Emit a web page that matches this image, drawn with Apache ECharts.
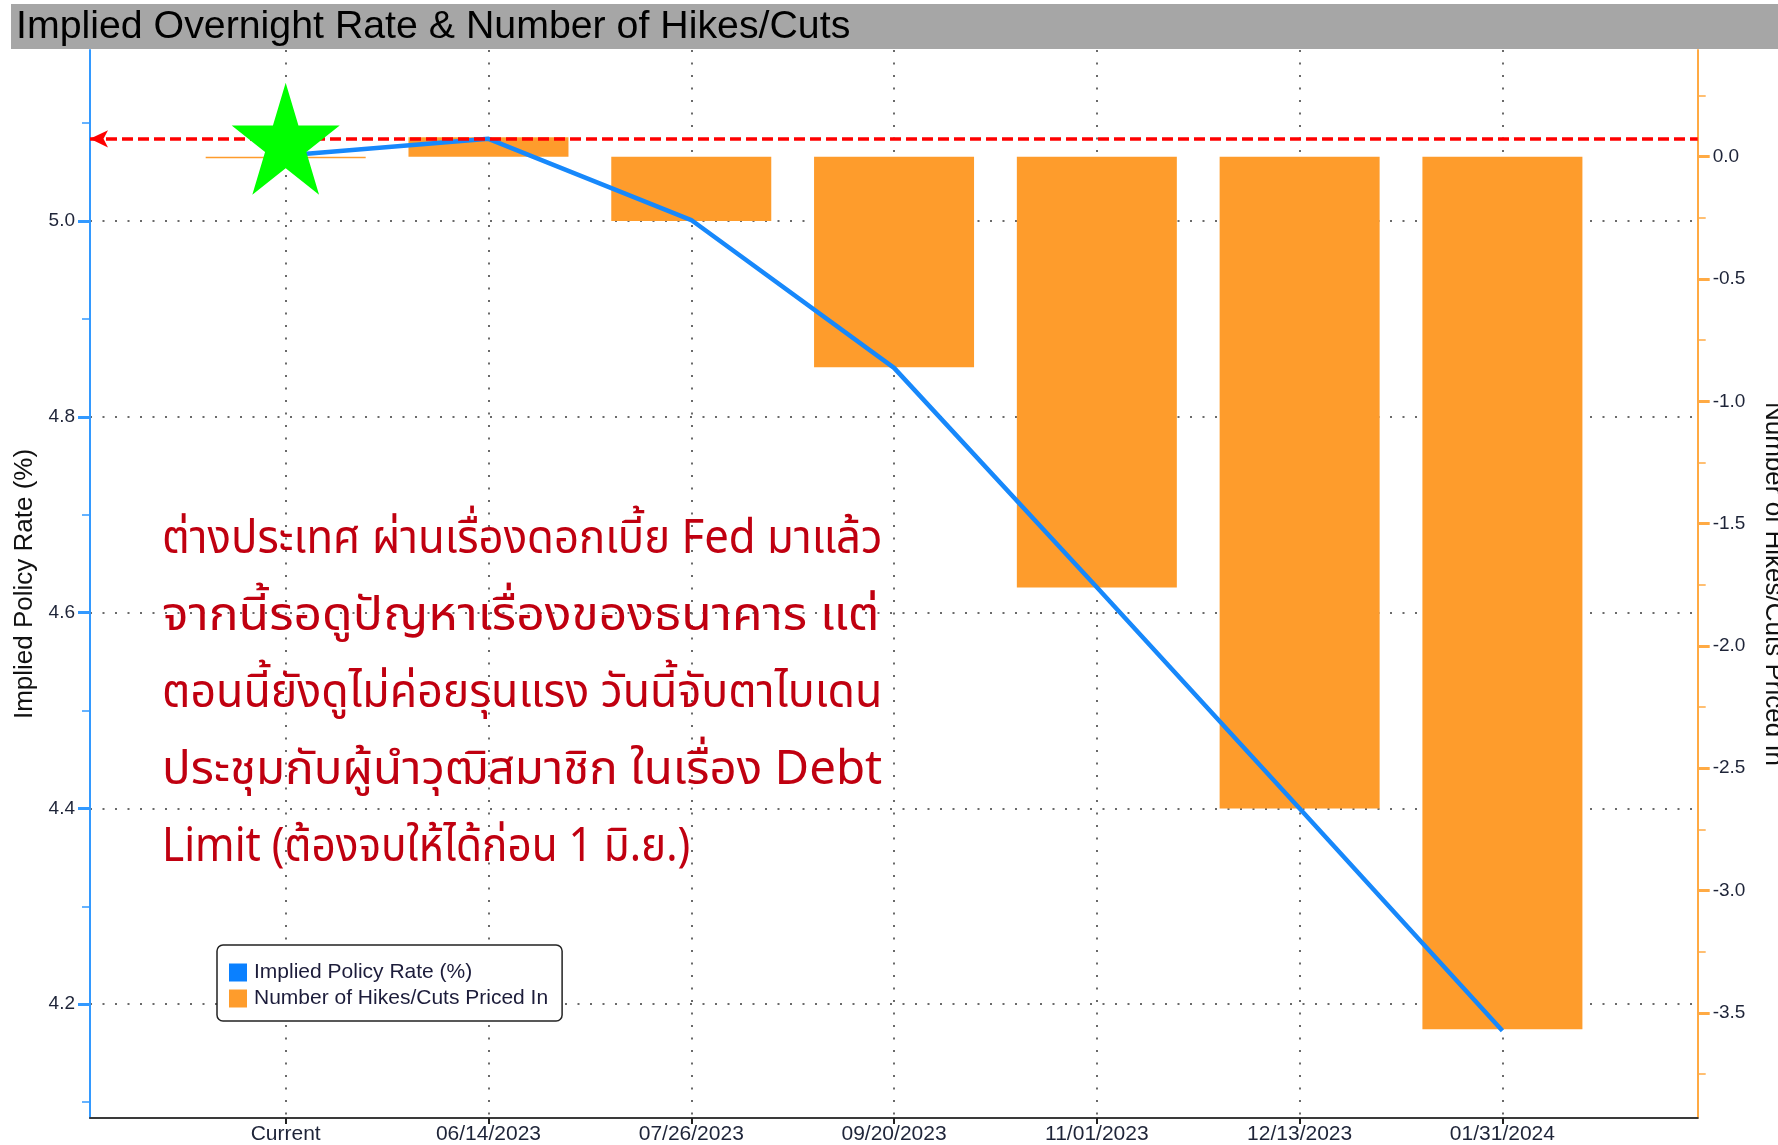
<!DOCTYPE html>
<html><head><meta charset="utf-8">
<script src="https://cdn.jsdelivr.net/npm/echarts@6/dist/echarts.min.js"></script>
<style>html,body{margin:0;padding:0;background:#fff}#c{width:1778px;height:1145px}</style>
</head><body><div id="c"></div>
<script>
// ---- data ----
const categories = ['Current', '06/14/2023', '07/26/2023', '09/20/2023', '11/01/2023', '12/13/2023', '01/31/2024'];
const impliedRate = [5.067, 5.084, 5.001, 4.850, 4.626, 4.400, 4.173];
const hikesCuts = [-0.006, 0.079, -0.263, -0.861, -1.761, -2.665, -3.567];
const leftTickLabels = [4.2, 4.4, 4.6, 4.8, 5.0];
const leftMinorTicks = [4.1, 4.3, 4.5, 4.7, 4.9, 5.1];
const rightTickLabels = [0, -0.5, -1.0, -1.5, -2.0, -2.5, -3.0, -3.5];
const rightMinorTicks = [0.25, -0.25, -0.75, -1.25, -1.75, -2.25, -2.75, -3.25, -3.75];
const titleText = 'Implied Overnight Rate & Number of Hikes/Cuts';
const noteLines = [
  'ต่างประเทศ ผ่านเรื่องดอกเบี้ย Fed มาแล้ว',
  'จากนี้รอดูปัญหาเรื่องของธนาคาร แต่',
  'ตอนนี้ยังดูไม่ค่อยรุนแรง วันนี้จับตาไบเดน',
  'ประชุมกับผู้นำวุฒิสมาชิก ในเรื่อง Debt',
  'Limit (ต้องจบให้ได้ก่อน 1 มิ.ย.)'
];

const xPos = categories.map((c, i) => i + 1);
const lineData = xPos.map((x, i) => [x, impliedRate[i]]);
const barData = xPos.map((x, i) => [x, hikesCuts[i]]);

const FONT = '"Liberation Sans", Arial, sans-serif';
const LABEL_COLOR = '#1e2438';
const STAR = 'path://M0,-50 L11.23,-15.45 L47.55,-15.45 L18.17,5.9 L29.39,40.45 L0,19.1 L-29.39,40.45 L-18.17,5.9 L-47.55,-15.45 L-11.23,-15.45 Z';
const gridDots = { color: '#6a6a6a', width: 2, type: [2, 10.5] };
const LEFT = { min: 4.0838, max: 5.1747 };
const RIGHT = { min: -3.930, max: 0.4362 };
const noteScale = [0.93, 1.06, 0.95, 1.01, 0.90];

const chart = echarts.init(document.getElementById('c'), null, { renderer: 'canvas' });

const noteGraphics = noteLines.map((t, i) => ({
  type: 'text', z: 100,
  x: 162, y: 543 + i * 77, scaleX: noteScale[i],
  style: { text: t, fill: '#c00010', font: '47px "Noto Sans Thai", "Noto Sans Thai Looped", "Noto Sans", sans-serif', verticalAlign: 'middle', align: 'left' }
}));

chart.setOption({
  animation: false,
  backgroundColor: '#ffffff',
  grid: { left: 90, right: 80.3, top: 50, bottom: 27, containLabel: false, outerBoundsMode: 'none' },
  legend: {
    orient: 'vertical', left: 217, top: 945,
    padding: [17, 14, 12, 12], itemGap: 5, itemWidth: 18, itemHeight: 18,
    borderColor: '#222', borderWidth: 1.5, borderRadius: 6, backgroundColor: '#fff',
    icon: 'rect',
    textStyle: { fontFamily: FONT, fontSize: 21, color: '#1c1c3a', padding: [0, 0, 0, 2] },
    data: ['Implied Policy Rate (%)', 'Number of Hikes/Cuts Priced In'], z: 50
  },
  xAxis: {
    type: 'value', min: 0.035, max: 7.963,
    axisLine: { show: true, onZero: false, lineStyle: { color: '#3a3a3a', width: 2 } },
    axisTick: { show: true, customValues: xPos, length: 6, lineStyle: { color: '#222', width: 2 } },
    axisLabel: {
      customValues: xPos,
      margin: 6, fontFamily: FONT, fontSize: 21, color: LABEL_COLOR,
      formatter: v => categories[Math.round(v) - 1] || ''
    },
    splitLine: { show: true, lineStyle: gridDots }
  },
  yAxis: [
    {
      type: 'value', position: 'left', min: LEFT.min, max: LEFT.max,
      name: 'Implied Policy Rate (%)', nameLocation: 'middle', nameGap: 52,
      nameTextStyle: { fontFamily: FONT, fontSize: 26, color: '#111' },
      axisLine: { show: true, lineStyle: { color: '#3399ff', width: 2 } },
      axisTick: { show: true, customValues: leftTickLabels, length: 12, lineStyle: { color: '#3399ff', width: 3 } },
      axisLabel: {
        customValues: leftTickLabels,
        margin: 15, fontFamily: FONT, fontSize: 19, color: LABEL_COLOR,
        formatter: v => v.toFixed(1)
      },
      splitLine: { show: true, lineStyle: gridDots }
    },
    {
      type: 'value', position: 'right', min: RIGHT.min, max: RIGHT.max,
      name: 'Number of Hikes/Cuts Priced In', nameLocation: 'middle', nameGap: 62, nameRotate: -90,
      nameTextStyle: { fontFamily: FONT, fontSize: 26, color: '#111' },
      axisLine: { show: true, onZero: false, lineStyle: { color: '#ffaa44', width: 2 } },
      axisTick: { show: true, customValues: rightTickLabels, length: 12, lineStyle: { color: '#ffaa44', width: 3 } },
      axisLabel: {
        customValues: rightTickLabels,
        margin: 15, fontFamily: FONT, fontSize: 19, color: LABEL_COLOR,
        formatter: v => v.toFixed(1)
      },
      splitLine: { show: false }
    },
    {
      type: 'value', position: 'left', min: LEFT.min, max: LEFT.max,
      axisLine: { show: false },
      axisTick: { show: true, customValues: leftMinorTicks, length: 8, lineStyle: { color: '#3399ff', width: 1.5 } },
      axisLabel: { show: false }, splitLine: { show: false }
    },
    {
      type: 'value', position: 'right', min: RIGHT.min, max: RIGHT.max,
      axisLine: { show: false },
      axisTick: { show: true, customValues: rightMinorTicks, length: 8, lineStyle: { color: '#ffaa44', width: 1.5 } },
      axisLabel: { show: false }, splitLine: { show: false }
    }
  ],
  series: [
    {
      name: 'Number of Hikes/Cuts Priced In', type: 'bar', yAxisIndex: 1,
      data: barData, barWidth: 160,
      itemStyle: { color: '#fe9c2c' }, silent: true
    },
    {
      name: 'Implied Policy Rate (%)', type: 'line', yAxisIndex: 0,
      data: lineData, symbol: 'none', silent: true,
      lineStyle: { color: '#1788fb', width: 4.5 },
      itemStyle: { color: '#0a80ff' },
      markLine: {
        silent: true, symbol: ['arrow', 'none'], symbolSize: [13, 18], precision: 4,
        label: { show: false },
        lineStyle: { color: '#ff0000', width: 3.5, type: [11, 5] },
        data: [{ type: 'max' }]
      },
      markPoint: {
        silent: true, symbol: STAR, symbolSize: [108, 112],
        itemStyle: { color: '#00ff00' }, label: { show: false },
        data: [{ coord: [xPos[0], Math.max(...impliedRate)] }]
      }
    }
  ],
  graphic: [
    { type: 'rect', z: 90, shape: { x: 11, y: 4, width: 1767, height: 45 }, style: { fill: '#a6a6a6' } },
    { type: 'text', z: 91, x: 16, y: 27, style: { text: titleText, fill: '#000', font: '39.3px "Liberation Sans", Arial, sans-serif', verticalAlign: 'middle' } }
  ].concat(noteGraphics)
});
</script></body></html>
